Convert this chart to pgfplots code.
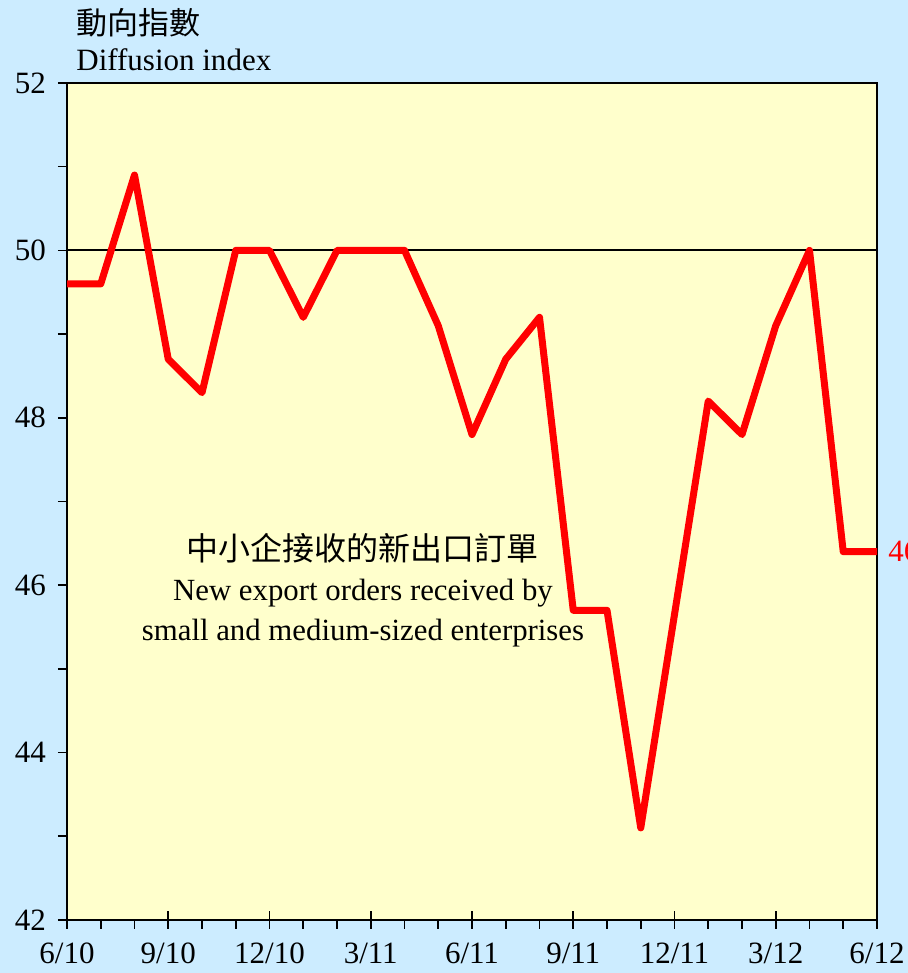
\documentclass[border=0pt]{standalone}
\usepackage{fontspec}
\setmainfont{Liberation Serif}
\newfontfamily\cjk{Noto Sans CJK TC}
\usepackage{pgfplots}
\pgfplotsset{compat=1.18}
\definecolor{bgblue}{RGB}{204,236,255}
\definecolor{plotbg}{RGB}{255,255,204}
\definecolor{linered}{RGB}{255,0,0}

\begin{document}
\begin{tikzpicture}
\fill[bgblue] (-33.5bp,-26.5bp) rectangle (420.5bp,460bp);
\clip (-33.5bp,-26.5bp) rectangle (420.5bp,460bp);
\begin{axis}[
  at={(0,0)}, anchor=south west,
  scale only axis, width=405bp, height=418.5bp,
  xmin=0, xmax=24, ymin=42, ymax=52,
  clip=false,
  axis background/.style={fill=plotbg},
  axis line style={line width=1.2bp},
  tick style={black, line width=0.8bp},
  tick align=outside,
  major tick length=4.5bp, minor tick length=4.5bp,
  xtick pos=bottom, ytick pos=left,
  xtick={0,1,...,24},
  xticklabels={6/10,,,9/10,,,12/10,,,3/11,,,6/11,,,9/11,,,12/11,,,3/12,,,6/12},
  extra x ticks={0,3,...,24},
  extra x tick labels={},
  extra x tick style={tick align=center, major tick length=9bp},
  ytick={42,44,...,52},
  minor y tick num=1,
  /pgf/number format/assume math mode=true,
  tick label style={font=\fontsize{15.5bp}{18bp}\selectfont},
  xticklabel style={yshift=-3.5bp},
  yticklabel style={xshift=-2.5bp},
]
  % 50 reference line
  \addplot[black, line width=1bp] coordinates {(0,50)(24,50)};

  \addplot[linered, line width=3.5bp, line join=round] coordinates {
    (0,49.6)(1,49.6)(2,50.9)(3,48.7)(4,48.3)(5,50.0)(6,50.0)(7,49.2)
    (8,50.0)(9,50.0)(10,50.0)(11,49.1)(12,47.8)(13,48.7)(14,49.2)
    (15,45.7)(16,45.7)(17,43.1)(18,45.65)(19,48.2)(20,47.8)(21,49.1)
    (22,50.0)(23,46.4)(24,46.4)
  };

  \node[anchor=west, inner sep=0, text=linered,
        font=\fontsize{15.5bp}{18bp}\selectfont]
    at ([xshift=5.5bp]axis cs:24,46.4) {46.4};

  \node[align=center, font=\fontsize{15.4bp}{20bp}\selectfont]
    at ([yshift=-2.5bp]axis cs:8.77,46.0)
    {{\fontsize{16bp}{20bp}\selectfont\cjk 中小企接收的新出口訂單}\\New export orders received by\\small and medium-sized enterprises};

  \node[anchor=base west, inner sep=0, font=\fontsize{15.5bp}{18bp}\selectfont]
    at ([xshift=4.5bp, yshift=6.2bp]rel axis cs:0,1) {Diffusion index};
  \node[anchor=base west, inner sep=0, font=\fontsize{15.5bp}{18bp}\selectfont\cjk]
    at ([xshift=4.5bp, yshift=24bp]rel axis cs:0,1) {動向指數};
\end{axis}
\end{tikzpicture}
\end{document}
